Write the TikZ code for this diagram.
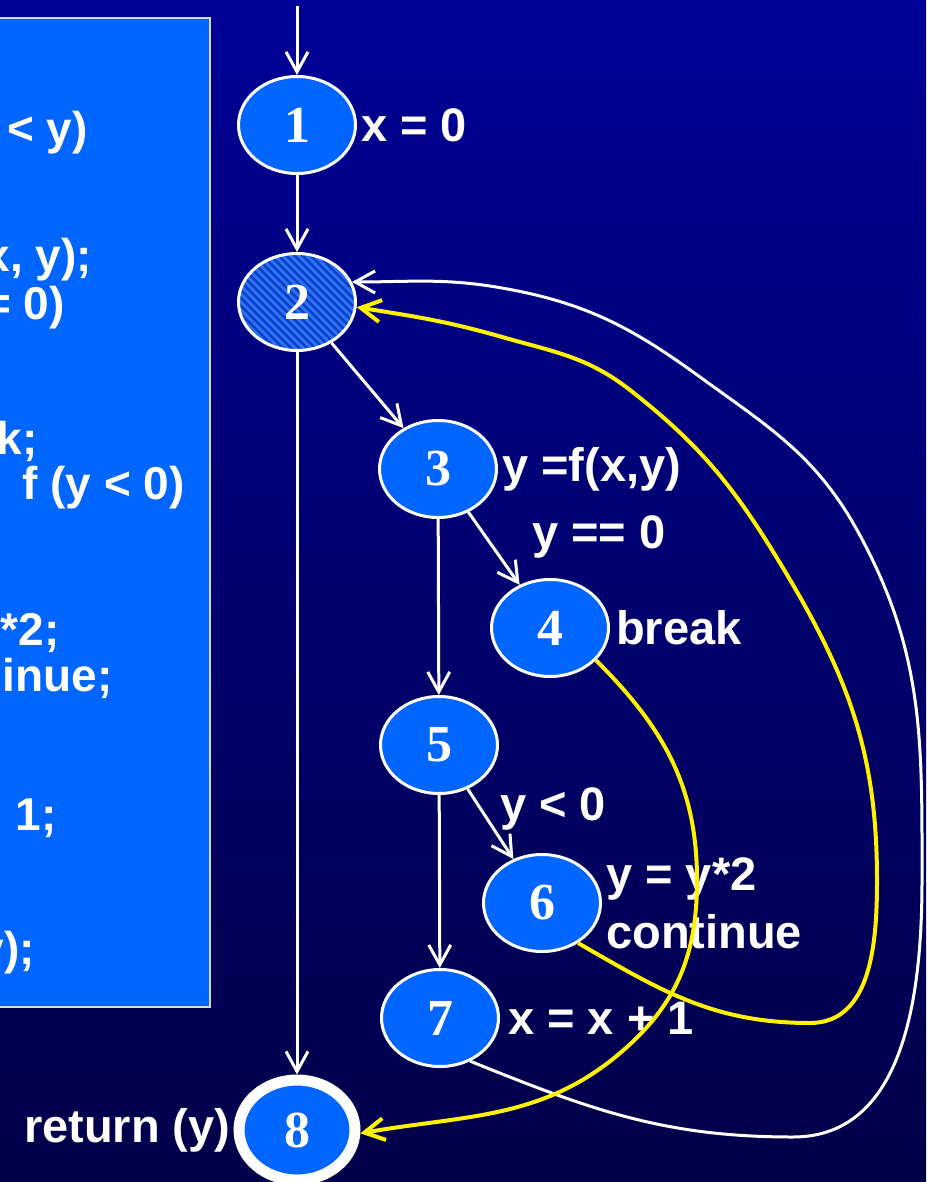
\documentclass[tikz,border=0pt]{standalone}
\usepackage{fontspec}
\setmainfont{Liberation Sans}
\newfontfamily\numfont{Liberation Serif}
\usetikzlibrary{arrows.meta,positioning,shapes.geometric}
\definecolor{navytop}{RGB}{0,0,150}
\definecolor{navybot}{RGB}{0,0,72}
\definecolor{nodeblue}{HTML}{0066FF}
\definecolor{hatchdark}{HTML}{0B3FC0}
\definecolor{hatchlight}{HTML}{2A70F8}
\definecolor{panelline}{HTML}{D8D8E8}
\tikzset{
  bnode/.style={ellipse,draw=white,line width=3pt,fill=nodeblue,minimum width=117pt,minimum height=97pt,inner sep=0pt,text=white,font=\fontsize{52}{52}\selectfont\numfont\bfseries},
  hatchnode/.style={bnode,fill=hatchdark,path picture={
      \foreach \k in {-14,...,14}
        \draw[draw=hatchlight,line width=3pt] ([xshift=\k*8pt]path picture bounding box.center) ++(-70pt,70pt) -- ++(140pt,-140pt);}},
  exitnode/.style={bnode,line width=11pt,minimum width=116pt,minimum height=100pt},
  lbl/.style={text=white,inner sep=2pt,font=\fontsize{47}{58}\selectfont\bfseries,align=left},
  codeline/.style={text=white,inner sep=0pt,anchor=base east,font=\fontsize{46}{58}\selectfont\bfseries},
  flow/.style={-{Straight Barb[length=20pt,width=22pt,line width=3pt]},white,line width=3pt},
  jump/.style={-{Straight Barb[length=20pt,width=22pt,line width=4pt]},yellow,line width=4pt}
}
\begin{document}
\begin{tikzpicture}[x=1pt,y=1pt]
  \clip (0,0) rectangle (926,-1182);
  \shade[top color=navytop,bottom color=navybot] (0,0) rectangle (926,-1182);
  % source code panel (cut off on the left)
  \draw[panelline,line width=2pt,fill=nodeblue] (-20,-18) rectangle (210,-1007);
  \node[codeline] (c1) at (88,-145) {< y)};
  \node[codeline] (c2) at (92,-271) {x, y);};
  \node[codeline] (c3) at (65,-319) {= 0)};
  \node[codeline] (c4) at (38,-454) {k;};
  \node[codeline] (c5) at (185,-499) {f (y < 0)};
  \node[codeline] (c6) at (60,-645) {*2;};
  \node[codeline] (c7) at (113,-691) {inue;};
  \node[codeline] (c8) at (57,-830) {1;};
  \node[codeline] (c9) at (35,-964) {y);};
  % flow graph
  \node[bnode] (n1) at (297,-125) {1};
  \node[hatchnode] (n2) at (297,-302) {2};
  \node[bnode] (n3) at (438,-469) {3};
  \node[bnode] (n4) at (550,-628) {4};
  \node[bnode] (n5) at (439,-745) {5};
  \node[bnode] (n6) at (542,-903) {6};
  \node[bnode] (n7) at (440,-1018) {7};
  \node[exitnode] (n8) at (297,-1130) {8};
  \node[lbl,right=2pt of n1] (l1) {x = 0};
  \node[lbl,right=2pt of n3] (l3) {y =f(x,y)};
  \node[lbl,anchor=base west] (l34) at (530,-548) {y == 0};
  \node[lbl,right=4pt of n4] (l4) {break};
  \node[lbl,anchor=base west] (l56) at (498,-820) {y < 0};
  \node[lbl,right=2pt of n6] (l6) {y = y*2\\continue};
  \node[lbl,right=6pt of n7] (l7) {x = x + 1};
  \node[lbl,left=1pt of n8] (l8) {return (y)};
  \coordinate (entry) at (297,-6);
  % edges
  \draw[flow] (entry) -- (n1);
  \draw[flow] (n1) -- (n2);
  \draw[flow] (n2) -- (n3);
  \draw[flow] (n2) -- (n8);
  \draw[flow] (n3) -- (n4);
  \draw[flow] (n3) -- (n5);
  \draw[flow] (n5) -- (n6);
  \draw[flow] (n5) -- (n7);
  \draw[flow] (n7.-55) to[out=-22,in=180] (793,-1137) to[out=0,in=-90] (922,-880)
    to[out=90,in=-61] (857,-530) to[out=119,in=-36] (700,-377)
    to[out=144,in=-10] (502,-288) to[out=170,in=0] (n2.20);
  \draw[jump] (n6.-48) to[out=-30,in=180] (810,-1023) to[out=0,in=-90] (877,-880)
    to[out=90,in=-59] (783,-568) to[out=121,in=-38] (630,-390)
    to[out=142,in=-16] (502,-337) to[out=164,in=-9] (n2.-5);
  \draw[jump] (n4.-35) to[out=-45,in=90] (697,-880) to[out=-90,in=42] (627,-1047)
    to[out=-138,in=10] (n8.-3);
\end{tikzpicture}
\end{document}
